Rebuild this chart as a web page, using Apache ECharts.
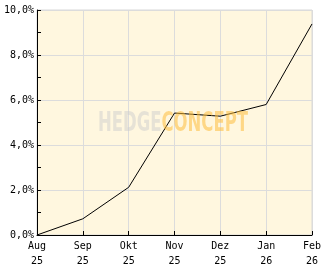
<!DOCTYPE html>
<html><head><meta charset="utf-8">
<script src="https://cdn.jsdelivr.net/npm/echarts@6/dist/echarts.min.js"></script>
<style>html,body{margin:0;padding:0;background:#fff}#c{width:332px;height:269px}</style>
</head><body><div id="c"></div>
<script>
var months = ['Aug','Sep','Okt','Nov','Dez','Jan','Feb'];
var years = ['25','25','25','25','25','26','26'];
var values = [0.0, 0.72, 2.12, 5.42, 5.28, 5.8, 9.38];
var yTicks = [0, 2, 4, 6, 8, 10];

var cats = months.map(function(m,i){return m+'\n'+years[i];});
var chart = echarts.init(document.getElementById('c'), null, {renderer:'canvas'});
var font = 'DejaVu Sans Mono';
var wmFam = 'DejaVu Sans';
var cv = document.createElement('canvas').getContext('2d');
cv.font = 'bold 27px "' + wmFam + '"';
var wmW = cv.measureText('HEDGECONCEPT').width || 240;
var sx = 150 / wmW;
chart.setOption({
  animation:false,
  backgroundColor:'#ffffff',
  grid:{left:37,right:20,top:10,bottom:32,show:true,backgroundColor:'#fff7df',borderColor:'#d8d8d8',borderWidth:1},
  xAxis:{type:'category',data:cats,boundaryGap:false,
    axisLine:{lineStyle:{color:'#000',width:1}},
    axisTick:{inside:true,length:4,lineStyle:{color:'#000'}},
    axisLabel:{color:'#000',fontFamily:font,fontSize:10,lineHeight:15,margin:4,interval:0},
    splitLine:{show:true,lineStyle:{color:'#dcdcdc',width:1}}},
  yAxis:[{type:'value',min:yTicks[0],max:yTicks[yTicks.length-1],interval:2,
    axisLine:{show:true,lineStyle:{color:'#000',width:1}},
    axisTick:{show:true,inside:true,length:4,lineStyle:{color:'#000'}},
    axisLabel:{color:'#000',fontFamily:font,fontSize:10,margin:3,
      formatter:function(v){return v.toFixed(1).replace('.',',')+'%';}},
    splitLine:{show:true,lineStyle:{color:'#dcdcdc',width:1}}},
    {type:'value',position:'left',min:yTicks[0],max:yTicks[yTicks.length-1],interval:1,
    axisLine:{show:false},
    axisTick:{show:true,inside:true,length:4,lineStyle:{color:'#000'}},
    axisLabel:{show:false},splitLine:{show:false}}],
  graphic:[{type:'text',x:98,y:110,scaleX:sx,z:100,silent:true,
    style:{text:'{a|HEDGE}{b|CONCEPT}',
      rich:{a:{fill:'rgba(205,205,205,0.5)',fontFamily:wmFam,fontWeight:'bold',fontSize:27},
            b:{fill:'rgba(253,190,60,0.55)',fontFamily:wmFam,fontWeight:'bold',fontSize:27}}}}],
  series:[{type:'line',data:values,symbol:'none',lineStyle:{color:'#000',width:1},z:2}]
});
</script></body></html>
